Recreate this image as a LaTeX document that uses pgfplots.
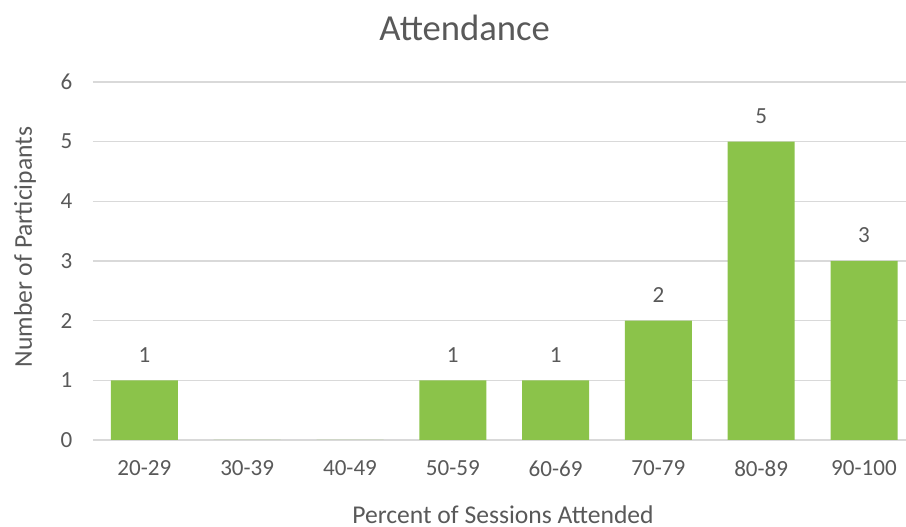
\documentclass[border=0pt]{standalone}
\usepackage{pgfplots}
\pgfplotsset{compat=1.18}
\usepackage{fontspec}
\setmainfont{Carlito}
\definecolor{barg}{RGB}{139,195,74}
\definecolor{txt}{RGB}{89,89,89}
\definecolor{gridc}{RGB}{217,217,217}
\begin{document}
\begin{tikzpicture}
\useasboundingbox (-69.75pt,-65.25pt) rectangle (609.75pt,330pt);
\begin{axis}[
  at={(0,0)}, anchor=south west,
  scale only axis,
  width=616.8pt, height=268.5pt,
  ybar, bar width=50.25pt,
  xmin=-0.5, xmax=7.5, ymin=0, ymax=6,
  xtick={0,1,2,3,4,5,6,7},
  xticklabels={20-29,30-39,40-49,50-59,60-69,70-79,80-89,90-100},
  ytick={0,1,2,3,4,5,6},
  axis line style={draw=none},
  xmajorgrids=false, ymajorgrids=true,
  grid style={draw=gridc, line width=1pt},
  major tick length=0pt,
  tick style={draw=none},
  /pgf/number format/assume math mode=true,
  ticklabel style={font=\fontsize{17.3pt}{20pt}\selectfont, text=txt},
  xticklabel style={yshift=-12pt},
  yticklabel style={xshift=-12pt},
  title={Attendance},
  title style={font=\fontsize{27.5pt}{32pt}\selectfont, text=txt, at={(axis description cs:0.452,1.129)}, anchor=center},
  xlabel={Percent of Sessions Attended},
  xlabel style={font=\fontsize{19.2pt}{23pt}\selectfont, text=txt, at={(axis description cs:0.4985,-0.232)}, anchor=base},
  ylabel={Number of Participants},
  ylabel style={font=\fontsize{19.2pt}{23pt}\selectfont, text=txt, at={(axis description cs:-0.0742,0.539)}, anchor=base, rotate=0},
  every node near coord/.append style={font=\fontsize{17.3pt}{20pt}\selectfont, text=txt, yshift=10pt},
]
\addplot[fill=barg, draw=none,
  nodes near coords={\pgfmathfloatifflags{\pgfplotspointmeta}{0}{}{\pgfmathprintnumber{\pgfplotspointmeta}}}]
  coordinates {(0,1) (1,0) (2,0) (3,1) (4,1) (5,2) (6,5) (7,3)};
\end{axis}
\end{tikzpicture}
\end{document}
